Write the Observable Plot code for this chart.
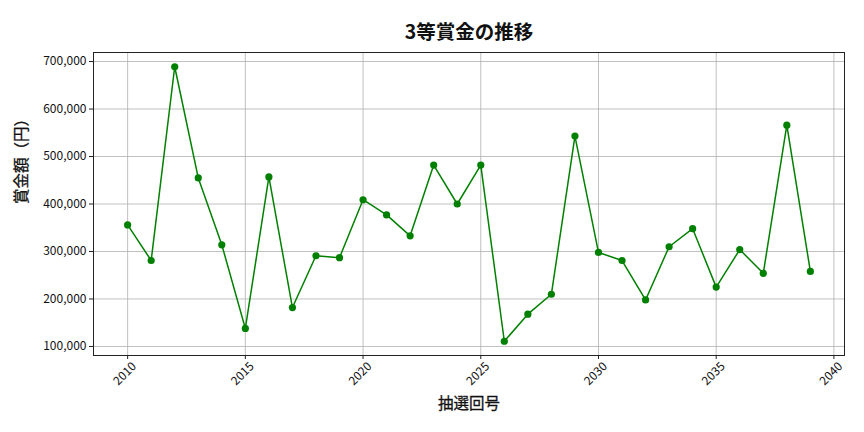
<!DOCTYPE html>
<html>
<head>
<meta charset="utf-8">
<script src="https://cdn.jsdelivr.net/npm/d3@7"></script>
<script src="https://cdn.jsdelivr.net/npm/@observablehq/plot@0.6"></script>
<style>
  html, body { margin: 0; padding: 0; background: #fff; }
  svg { font-family: "Noto Sans CJK JP", "Noto Sans", sans-serif; }
</style>
</head>
<body>
<div id="chart"></div>
<script>
const years = [2010,2011,2012,2013,2014,2015,2016,2017,2018,2019,2020,2021,2022,2023,2024,2025,2026,2027,2028,2029,2030,2031,2032,2033,2034,2035,2036,2037,2038,2039];
const prizes = [356000,281000,689000,455000,314000,138000,457000,182000,291000,287000,409000,377000,333000,482000,400000,482000,111000,168000,210000,543000,298000,281000,198000,310000,348000,225000,304000,254000,566000,258000];
const xTicks = [2010,2015,2020,2025,2030,2035,2040];
const yTicks = [100000,200000,300000,400000,500000,600000,700000];
const titleText = "3等賞金の推移";
const xLabel = "抽選回号";
const yLabel = "賞金額（円）";

const data = years.map((y, i) => ({year: y, prize: prizes[i]}));
const fmt = d3.format(",");

const chart = Plot.plot({
  width: 864,
  height: 432,
  marginLeft: 93,
  marginRight: 20,
  marginTop: 52,
  marginBottom: 77,
  x: {domain: [2008.55, 2040.45]},
  y: {domain: [81000, 719000]},
  marks: [
    Plot.gridX(xTicks, {stroke: "#b0b0b0", strokeOpacity: 1, strokeWidth: 0.8}),
    Plot.gridY(yTicks, {stroke: "#b0b0b0", strokeOpacity: 1, strokeWidth: 0.8}),
    Plot.axisY({ticks: yTicks, tickFormat: fmt, tickSize: 4, tickPadding: 3, label: null, fontSize: 12, stroke: "#222", fill: "#111"}),
    Plot.axisX({ticks: xTicks, tickFormat: () => "", tickSize: 4, label: null, stroke: "#222"}),
    Plot.text(xTicks, {x: d => d, text: d => String(d), frameAnchor: "bottom", dy: 21, rotate: -45, textAnchor: "middle", fontSize: 12, fill: "#111"}),
    Plot.line(data, {x: "year", y: "prize", stroke: "green", strokeWidth: 1.5}),
    Plot.dot(data, {x: "year", y: "prize", fill: "green", r: 3.6}),
    Plot.frame({stroke: "#222", strokeWidth: 1}),
    Plot.text([titleText], {frameAnchor: "top", dy: -27, fontSize: 19.5, fontWeight: "bold", fill: "#111"}),
    Plot.text([xLabel], {frameAnchor: "bottom", dy: 53, fontSize: 15.5, fill: "#111", stroke: "#111", strokeWidth: 0.3}),
    Plot.text([yLabel], {frameAnchor: "left", dx: -71, rotate: -90, fontSize: 15.5, fill: "#111", stroke: "#111", strokeWidth: 0.3})
  ]
});
document.getElementById("chart").appendChild(chart);
</script>
</body>
</html>
